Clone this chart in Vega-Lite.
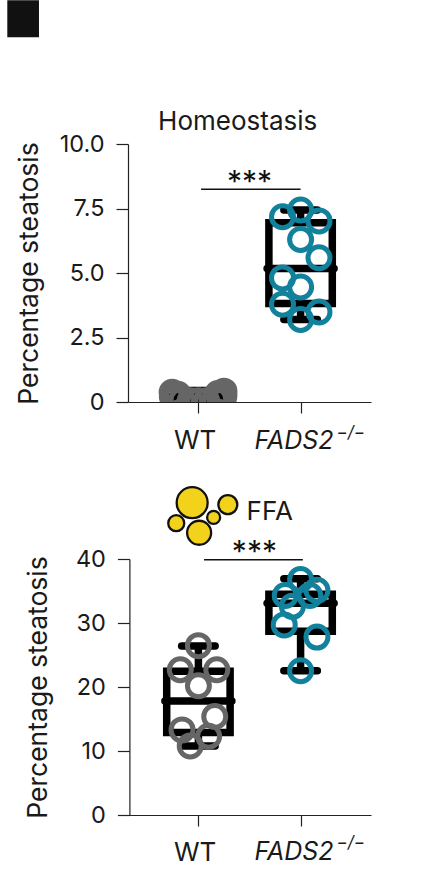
{
  "$schema": "https://vega.github.io/schema/vega-lite/v6.json",
  "background": "white",
  "padding": {"left": 7, "top": 0, "right": 59, "bottom": 6},
  "bounds": "flush",
  "spacing": 157,
  "config": {
    "view": {"stroke": null},
    "font": "Inter",
    "axis": {"grid": false, "domainColor": "#222222", "tickColor": "#222222", "domainWidth": 1.2, "tickWidth": 1.2, "labelColor": "#1a1a1a", "titleColor": "#1a1a1a", "labelFont": "Inter", "titleFont": "Inter", "labelFontSize": 23.5, "titleFontSize": 26.5, "titleFontWeight": "normal", "zindex": 1}
  },
  "datasets": {
    "boxes": [
      {"panel": "Homeostasis", "group": 1, "min": 0, "q1": 0, "median": 0.08, "q3": 0.2, "max": 0.45},
      {"panel": "Homeostasis", "group": 2, "min": 3.2, "q1": 3.82, "median": 5.17, "q3": 6.95, "max": 7.44},
      {"panel": "FFA", "group": 1, "min": 10.8, "q1": 12.9, "median": 17.8, "q3": 22.45, "max": 26.4},
      {"panel": "FFA", "group": 2, "min": 22.55, "q1": 28.7, "median": 33.1, "q3": 34.5, "max": 36.9}
    ],
    "rings": [
      {"panel": "Homeostasis", "genotype": "WT", "x": 0.743, "value": 0.38},
      {"panel": "Homeostasis", "genotype": "WT", "x": 1.25, "value": 0.42},
      {"panel": "Homeostasis", "genotype": "WT", "x": 0.78, "value": 0.2},
      {"panel": "Homeostasis", "genotype": "WT", "x": 1.21, "value": 0.24},
      {"panel": "Homeostasis", "genotype": "WT", "x": 0.745, "value": 0.2},
      {"panel": "Homeostasis", "genotype": "WT", "x": 1.25, "value": 0.24},
      {"panel": "Homeostasis", "genotype": "WT", "x": 0.8, "value": 0.3},
      {"panel": "Homeostasis", "genotype": "WT", "x": 1.19, "value": 0.33},
      {"panel": "Homeostasis", "genotype": "WT", "x": 0.76, "value": 0.05},
      {"panel": "Homeostasis", "genotype": "WT", "x": 0.84, "value": 0.08},
      {"panel": "Homeostasis", "genotype": "WT", "x": 0.92, "value": 0.05},
      {"panel": "Homeostasis", "genotype": "WT", "x": 1, "value": 0.05},
      {"panel": "Homeostasis", "genotype": "WT", "x": 1.08, "value": 0.05},
      {"panel": "Homeostasis", "genotype": "WT", "x": 1.16, "value": 0.1},
      {"panel": "Homeostasis", "genotype": "WT", "x": 1.24, "value": 0.05},
      {"panel": "Homeostasis", "genotype": "KO", "x": 1.823, "value": 7.18},
      {"panel": "Homeostasis", "genotype": "KO", "x": 2, "value": 7.44},
      {"panel": "Homeostasis", "genotype": "KO", "x": 2.18, "value": 7.02},
      {"panel": "Homeostasis", "genotype": "KO", "x": 2, "value": 6.3},
      {"panel": "Homeostasis", "genotype": "KO", "x": 2.18, "value": 5.59},
      {"panel": "Homeostasis", "genotype": "KO", "x": 1.823, "value": 4.81},
      {"panel": "Homeostasis", "genotype": "KO", "x": 2, "value": 4.46},
      {"panel": "Homeostasis", "genotype": "KO", "x": 1.823, "value": 3.79},
      {"panel": "Homeostasis", "genotype": "KO", "x": 2.18, "value": 3.49},
      {"panel": "Homeostasis", "genotype": "KO", "x": 2, "value": 3.2},
      {"panel": "FFA", "genotype": "WT", "x": 1, "value": 26.46},
      {"panel": "FFA", "genotype": "WT", "x": 0.823, "value": 22.7},
      {"panel": "FFA", "genotype": "WT", "x": 1.18, "value": 22.7},
      {"panel": "FFA", "genotype": "WT", "x": 1, "value": 20.2},
      {"panel": "FFA", "genotype": "WT", "x": 1.16, "value": 15.4},
      {"panel": "FFA", "genotype": "WT", "x": 0.84, "value": 13.3},
      {"panel": "FFA", "genotype": "WT", "x": 1.1, "value": 12.3},
      {"panel": "FFA", "genotype": "WT", "x": 0.92, "value": 10.8},
      {"panel": "FFA", "genotype": "KO", "x": 2, "value": 36.8},
      {"panel": "FFA", "genotype": "KO", "x": 1.85, "value": 34.3},
      {"panel": "FFA", "genotype": "KO", "x": 2.16, "value": 35.1},
      {"panel": "FFA", "genotype": "KO", "x": 2.09, "value": 34.3},
      {"panel": "FFA", "genotype": "KO", "x": 1.92, "value": 32.6},
      {"panel": "FFA", "genotype": "KO", "x": 1.84, "value": 29.7},
      {"panel": "FFA", "genotype": "KO", "x": 2.16, "value": 27.8},
      {"panel": "FFA", "genotype": "KO", "x": 2, "value": 22.55}
    ],
    "brackets": [
      {"panel": "Homeostasis", "from": 1.026, "to": 2, "y": 8.25, "stars": "***", "mid": 1.5, "starY": 8.48},
      {"panel": "FFA", "from": 1.055, "to": 2.022, "y": 39.9, "stars": "***", "mid": 1.548, "starY": 41}
    ],
    "labels": [
      {"panel": "Homeostasis", "text": "Homeostasis", "x": 1.384, "y": 10.85},
      {"panel": "Homeostasis", "text": "WT", "x": 0.968, "y": -1.52},
      {"panel": "FFA", "text": "WT", "x": 0.968, "y": -5.9},
      {"panel": "FFA", "text": "FFA", "x": 1.698, "y": 47.4}
    ],
    "genes": [
      {"panel": "Homeostasis", "text": "FADS2", "sup": "−/−", "x": 1.548, "y": -1.52, "supX": 2.351, "supY": -1.19},
      {"panel": "FFA", "text": "FADS2", "sup": "−/−", "x": 1.548, "y": -5.8, "supX": 2.351, "supY": -4.33}
    ],
    "blobs": [
      {"blob": "a", "x": 0.939, "y": 48.8},
      {"blob": "b", "x": 1.288, "y": 48.5},
      {"blob": "c", "x": 0.783, "y": 45.6},
      {"blob": "d", "x": 1.149, "y": 46.5},
      {"blob": "e", "x": 1.007, "y": 44.1}
    ],
    "corner": [
      {"x": -0.87, "x2": -0.56, "y": 15.57, "y2": 14.14}
    ]
  },
  "vconcat": [
    {
      "width": 243,
      "height": 258,
      "layer": [
        {
          "data": {"name": "corner"},
          "mark": {"type": "rect", "color": "#111111", "clip": false},
          "encoding": {
            "x": {"field": "x", "type": "quantitative", "scale": {"domain": [0.36, 2.64], "nice": false, "zero": false}, "axis": {"values": [1, 2], "labels": false, "title": null, "tickSize": 11}},
            "x2": {"field": "x2"},
            "y": {"field": "y", "type": "quantitative", "scale": {"domain": [0, 10], "nice": false}, "axis": {"values": [0, 2.5, 5, 7.5, 10], "labelExpr": "datum.value === 0 ? '0' : format(datum.value, '.1f')", "title": "Percentage steatosis", "tickSize": 12, "labelPadding": 12, "titlePadding": 16}},
            "y2": {"field": "y2"}
          }
        },
        {
          "data": {"name": "boxes"},
          "transform": [{"filter": "datum.panel === 'Homeostasis'"}],
          "layer": [
            {"mark": {"type": "rule", "color": "black", "strokeWidth": 7.5, "clip": true}, "encoding": {"x": {"field": "group", "type": "quantitative"}, "y": {"field": "q3", "type": "quantitative"}, "y2": {"field": "max"}}},
            {"mark": {"type": "rule", "color": "black", "strokeWidth": 7.5, "clip": true}, "encoding": {"x": {"field": "group", "type": "quantitative"}, "y": {"field": "min", "type": "quantitative"}, "y2": {"field": "q1"}}},
            {"mark": {"type": "bar", "width": 63.4, "fill": null, "stroke": "black", "strokeWidth": 7.5, "clip": true}, "encoding": {"x": {"field": "group", "type": "quantitative"}, "y": {"field": "q1", "type": "quantitative"}, "y2": {"field": "q3"}}},
            {"mark": {"type": "point", "shape": "stroke", "size": 4489, "stroke": "black", "strokeWidth": 7.5, "strokeCap": "round", "opacity": 1, "clip": true}, "encoding": {"x": {"field": "group", "type": "quantitative"}, "y": {"field": "median", "type": "quantitative"}}},
            {"mark": {"type": "point", "shape": "stroke", "size": 1122, "stroke": "black", "strokeWidth": 7.5, "strokeCap": "round", "opacity": 1, "clip": true}, "encoding": {"x": {"field": "group", "type": "quantitative"}, "y": {"field": "max", "type": "quantitative"}}},
            {"mark": {"type": "point", "shape": "stroke", "size": 1122, "stroke": "black", "strokeWidth": 7.5, "strokeCap": "round", "opacity": 1, "clip": true}, "encoding": {"x": {"field": "group", "type": "quantitative"}, "y": {"field": "min", "type": "quantitative"}}}
          ]
        },
        {
          "data": {"name": "rings"},
          "transform": [{"filter": "datum.panel === 'Homeostasis'"}],
          "mark": {"type": "point", "shape": "circle", "size": 484, "strokeWidth": 5, "fill": null, "opacity": 1, "clip": true},
          "encoding": {
            "x": {"field": "x", "type": "quantitative"},
            "y": {"field": "value", "type": "quantitative"},
            "stroke": {"field": "genotype", "type": "nominal", "scale": {"domain": ["WT", "KO"], "range": ["#666666", "#12819c"]}, "legend": null}
          }
        },
        {
          "data": {"name": "brackets"},
          "transform": [{"filter": "datum.panel === 'Homeostasis'"}],
          "layer": [
            {"mark": {"type": "rule", "color": "#111111", "strokeWidth": 1.5}, "encoding": {"x": {"field": "from", "type": "quantitative"}, "x2": {"field": "to"}, "y": {"field": "y", "type": "quantitative"}}},
            {"mark": {"type": "text", "fontSize": 30, "color": "#111111", "baseline": "middle"}, "encoding": {"x": {"field": "mid", "type": "quantitative"}, "y": {"field": "starY", "type": "quantitative"}, "text": {"field": "stars"}}}
          ]
        },
        {
          "data": {"name": "labels"},
          "transform": [{"filter": "datum.panel === 'Homeostasis'"}],
          "mark": {"type": "text", "fontSize": 26, "color": "#1a1a1a", "baseline": "middle"},
          "encoding": {"x": {"field": "x", "type": "quantitative"}, "y": {"field": "y", "type": "quantitative"}, "text": {"field": "text"}}
        },
        {
          "data": {"name": "genes"},
          "transform": [{"filter": "datum.panel === 'Homeostasis'"}],
          "layer": [
            {"mark": {"type": "text", "fontSize": 25, "fontStyle": "italic", "align": "left", "color": "#1a1a1a", "baseline": "middle"}, "encoding": {"x": {"field": "x", "type": "quantitative"}, "y": {"field": "y", "type": "quantitative"}, "text": {"field": "text"}}},
            {"mark": {"type": "text", "fontSize": 17, "fontStyle": "italic", "align": "left", "color": "#1a1a1a", "baseline": "middle"}, "encoding": {"x": {"field": "supX", "type": "quantitative"}, "y": {"field": "supY", "type": "quantitative"}, "text": {"field": "sup"}}}
          ]
        }
      ]
    },
    {
      "width": 243,
      "height": 256,
      "layer": [
        {
          "data": {"name": "boxes"},
          "transform": [{"filter": "datum.panel === 'FFA'"}],
          "layer": [
            {"mark": {"type": "rule", "color": "black", "strokeWidth": 7.5, "clip": true}, "encoding": {
              "x": {"field": "group", "type": "quantitative", "scale": {"domain": [0.36, 2.64], "nice": false, "zero": false}, "axis": {"values": [1, 2], "labels": false, "title": null, "tickSize": 11}},
              "y": {"field": "q3", "type": "quantitative", "scale": {"domain": [0, 40], "nice": false}, "axis": {"values": [0, 10, 20, 30, 40], "title": "Percentage steatosis", "tickSize": 12, "labelPadding": 12, "titlePadding": 23, "offset": -1.4}},
              "y2": {"field": "max"}}},
            {"mark": {"type": "rule", "color": "black", "strokeWidth": 7.5, "clip": true}, "encoding": {"x": {"field": "group", "type": "quantitative"}, "y": {"field": "min", "type": "quantitative"}, "y2": {"field": "q1"}}},
            {"mark": {"type": "bar", "width": 63.4, "fill": null, "stroke": "black", "strokeWidth": 7.5, "clip": true}, "encoding": {"x": {"field": "group", "type": "quantitative"}, "y": {"field": "q1", "type": "quantitative"}, "y2": {"field": "q3"}}},
            {"mark": {"type": "point", "shape": "stroke", "size": 4489, "stroke": "black", "strokeWidth": 7.5, "strokeCap": "round", "opacity": 1, "clip": true}, "encoding": {"x": {"field": "group", "type": "quantitative"}, "y": {"field": "median", "type": "quantitative"}}},
            {"mark": {"type": "point", "shape": "stroke", "size": 1122, "stroke": "black", "strokeWidth": 7.5, "strokeCap": "round", "opacity": 1, "clip": true}, "encoding": {"x": {"field": "group", "type": "quantitative"}, "y": {"field": "max", "type": "quantitative"}}},
            {"mark": {"type": "point", "shape": "stroke", "size": 1122, "stroke": "black", "strokeWidth": 7.5, "strokeCap": "round", "opacity": 1, "clip": true}, "encoding": {"x": {"field": "group", "type": "quantitative"}, "y": {"field": "min", "type": "quantitative"}}}
          ]
        },
        {
          "data": {"name": "rings"},
          "transform": [{"filter": "datum.panel === 'FFA'"}],
          "mark": {"type": "point", "shape": "circle", "size": 484, "strokeWidth": 5, "fill": null, "opacity": 1, "clip": true},
          "encoding": {
            "x": {"field": "x", "type": "quantitative"},
            "y": {"field": "value", "type": "quantitative"},
            "stroke": {"field": "genotype", "type": "nominal", "scale": {"domain": ["WT", "KO"], "range": ["#666666", "#12819c"]}, "legend": null}
          }
        },
        {
          "data": {"name": "blobs"},
          "mark": {"type": "point", "shape": "circle", "filled": false, "fill": "#f2d21b", "fillOpacity": 1, "stroke": "#111111", "strokeWidth": 2.3, "opacity": 1},
          "encoding": {
            "x": {"field": "x", "type": "quantitative"},
            "y": {"field": "y", "type": "quantitative"},
            "size": {"field": "blob", "type": "nominal", "scale": {"type": "ordinal", "domain": ["a", "b", "c", "d", "e"], "range": [961, 361, 256, 169, 576]}, "legend": null}
          }
        },
        {
          "data": {"name": "brackets"},
          "transform": [{"filter": "datum.panel === 'FFA'"}],
          "layer": [
            {"mark": {"type": "rule", "color": "#111111", "strokeWidth": 1.5}, "encoding": {"x": {"field": "from", "type": "quantitative"}, "x2": {"field": "to"}, "y": {"field": "y", "type": "quantitative"}}},
            {"mark": {"type": "text", "fontSize": 30, "color": "#111111", "baseline": "middle"}, "encoding": {"x": {"field": "mid", "type": "quantitative"}, "y": {"field": "starY", "type": "quantitative"}, "text": {"field": "stars"}}}
          ]
        },
        {
          "data": {"name": "labels"},
          "transform": [{"filter": "datum.panel === 'FFA'"}],
          "mark": {"type": "text", "fontSize": 26, "color": "#1a1a1a", "baseline": "middle"},
          "encoding": {"x": {"field": "x", "type": "quantitative"}, "y": {"field": "y", "type": "quantitative"}, "text": {"field": "text"}}
        },
        {
          "data": {"name": "genes"},
          "transform": [{"filter": "datum.panel === 'FFA'"}],
          "layer": [
            {"mark": {"type": "text", "fontSize": 25, "fontStyle": "italic", "align": "left", "color": "#1a1a1a", "baseline": "middle"}, "encoding": {"x": {"field": "x", "type": "quantitative"}, "y": {"field": "y", "type": "quantitative"}, "text": {"field": "text"}}},
            {"mark": {"type": "text", "fontSize": 17, "fontStyle": "italic", "align": "left", "color": "#1a1a1a", "baseline": "middle"}, "encoding": {"x": {"field": "supX", "type": "quantitative"}, "y": {"field": "supY", "type": "quantitative"}, "text": {"field": "sup"}}}
          ]
        }
      ]
    }
  ]
}
